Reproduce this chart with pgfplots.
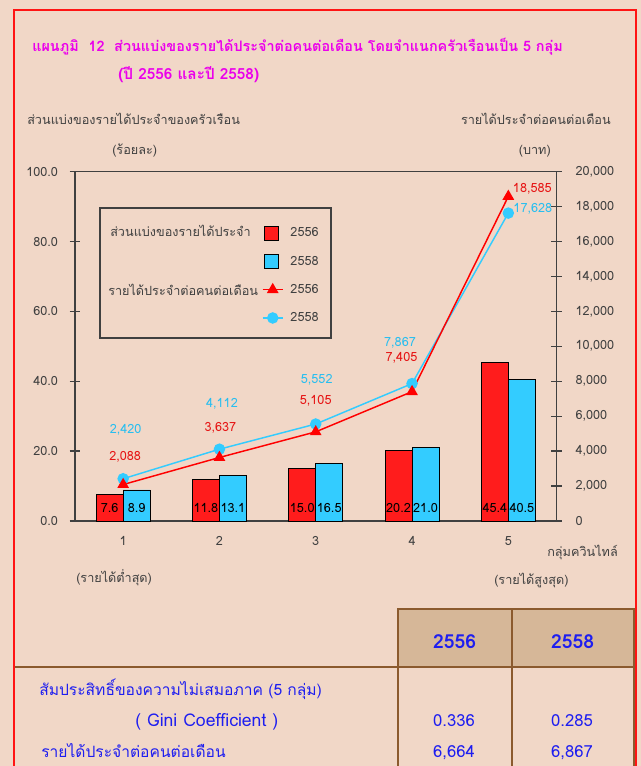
\documentclass[border=0pt]{standalone}
\usepackage{fontspec}
\setmainfont[Script=Thai]{Loma}
\usepackage{pgfplots}
\usepackage{pgfplotstable}
\pgfplotsset{compat=1.18}

\definecolor{bg}{RGB}{241,215,199}
\definecolor{framered}{RGB}{255,20,20}
\definecolor{ttl}{RGB}{235,0,235}
\definecolor{axgray}{RGB}{64,64,64}
\definecolor{barred}{RGB}{255,28,28}
\definecolor{barcyan}{RGB}{51,204,255}
\definecolor{linered}{RGB}{255,0,0}
\definecolor{linecyan}{RGB}{51,204,255}
\definecolor{lblred}{RGB}{230,20,20}
\definecolor{lblcyan}{RGB}{40,190,240}
\definecolor{tblbrown}{RGB}{139,90,46}
\definecolor{tblfill}{RGB}{214,183,152}
\definecolor{tblblue}{RGB}{30,30,240}

\pgfplotstableread{
x s56 s58
1 7.6 8.9
2 11.8 13.1
3 15.0 16.5
4 20.2 21.0
5 45.4 40.5
}\sharetab
\pgfplotstableread{
x y dx dy
1 2088 1.5 21.4
2 3637 0.75 23.1
3 5105 0 23.6
4 7405 -7.9 25.8
5 18585 18 6.3
}\incA
\pgfplotstableread{
x y dx dy
1 2420 1.9 37
2 4112 1.9 34.3
3 5552 0.75 33.75
4 7867 -9 31.5
5 17628 18.4 3.75
}\incB

\newcommand\cf{\fontsize{9.5}{11}\selectfont}
\newcommand\tf{\fontsize{12.5}{15}\selectfont}
\newcommand\tft{\fontsize{11.7}{14}\selectfont}

\begin{document}
\begin{tikzpicture}
\useasboundingbox (0,0) rectangle (480.75pt,-574.5pt);
\fill[bg] (0,0) rectangle (480.75pt,-574.5pt);
\begin{scope}[x=0.75pt,y=-0.75pt]
  % table
  \fill[tblfill] (398,609) rectangle (634,667);
  \draw[tblbrown,line width=1.7pt] (398,766) -- (398,609) -- (634,609) -- (634,766);
  \draw[tblbrown,line width=1.7pt] (512,609) -- (512,766);
  \draw[tblbrown,line width=1.7pt] (14,667) -- (634,667);
  % frame
  \draw[framered,line width=1.5pt] (14,766) -- (14,10) -- (635.5,10) -- (635.5,766);
  % titles
  \node[anchor=base west,inner sep=0pt,text=ttl,font=\fontsize{10.8}{14}\selectfont\bfseries] at (32,52) {แผนภูมิ\ \ 12\ \ ส่วนแบ่งของรายได้ประจำต่อคนต่อเดือน โดยจำแนกครัวเรือนเป็น 5 กลุ่ม};
  \node[anchor=base west,inner sep=0pt,text=ttl,font=\fontsize{11.5}{14}\selectfont\bfseries] at (118,80) {(ปี 2556 และปี 2558)};
  % axis titles
  \node[anchor=base west,inner sep=0pt,text=axgray,font=\cf] at (27,125) {ส่วนแบ่งของรายได้ประจำของครัวเรือน};
  \node[anchor=base west,inner sep=0pt,text=axgray,font=\cf] at (112,155) {(ร้อยละ)};
  \node[anchor=base east,inner sep=0pt,text=axgray,font=\cf] at (611,125) {รายได้ประจำต่อคนต่อเดือน};
  \node[anchor=base east,inner sep=0pt,text=axgray,font=\cf] at (551,155) {(บาท)};
  \node[anchor=base west,inner sep=0pt,text=axgray,font=\cf] at (547,556) {กลุ่มควินไทล์};
  \node[anchor=base west,inner sep=0pt,text=axgray,font=\cf] at (76,582) {(รายได้ต่ำสุด)};
  \node[anchor=base west,inner sep=0pt,text=axgray,font=\cf] at (494,584) {(รายได้สูงสุด)};
  % legend box and group labels
  \draw[axgray,line width=0.9pt] (100,208) rectangle (331,338);
  \node[anchor=base west,inner sep=0pt,text=axgray,font=\cf] at (110,237) {ส่วนแบ่งของรายได้ประจำ};
  \node[anchor=base west,inner sep=0pt,text=axgray,font=\cf] at (108,295) {รายได้ประจำต่อคนต่อเดือน};
  % table text
  \node[anchor=base,inner sep=0pt,text=tblblue,font=\fontsize{14.5}{17}\selectfont\bfseries] at (454.5,648) {2556};
  \node[anchor=base,inner sep=0pt,text=tblblue,font=\fontsize{14.5}{17}\selectfont\bfseries] at (572.5,648) {2558};
  \node[anchor=base west,inner sep=0pt,text=tblblue,font=\tft] at (39,695) {สัมประสิทธิ์ของความไม่เสมอภาค (5 กลุ่ม)};
  \node[anchor=base west,inner sep=0pt,text=tblblue,font=\fontsize{13.2}{15}\selectfont] at (135,726) {( Gini Coefficient )};
  \node[anchor=base,inner sep=0pt,text=tblblue,font=\tf] at (454,726) {0.336};
  \node[anchor=base,inner sep=0pt,text=tblblue,font=\tf] at (572,726) {0.285};
  \node[anchor=base west,inner sep=0pt,text=tblblue,font=\tft] at (41,757) {รายได้ประจำต่อคนต่อเดือน};
  \node[anchor=base,inner sep=0pt,text=tblblue,font=\tf] at (454,757) {6,664};
  \node[anchor=base,inner sep=0pt,text=tblblue,font=\tf] at (572,757) {6,867};
\end{scope}

% ---------- bars (left axis) ----------
\begin{axis}[
  at={(56.25pt,-390.75pt)}, anchor=south west,
  scale only axis, width=361.1pt, height=262pt,
  xmin=0.5, xmax=5.5, ymin=0, ymax=100,
  xtick={1,2,3,4,5}, major x tick style={draw=none}, xtick pos=bottom,
  ytick={0,20,40,60,80,100}, ytick pos=left,
  tick align=center, major tick length=8pt,
  axis line style={draw=axgray, line width=1pt},
  every tick/.style={axgray, line width=1pt},
  ybar=0pt, bar width=20.25pt,
  tick label style={font=\cf, text=axgray},
  yticklabel style={xshift=-5.25pt},
  /pgf/number format/assume math mode=true,
  yticklabel={\pgfmathprintnumber[fixed,fixed zerofill,precision=1]{\tick}},
  clip=false,
]
\addplot[fill=barred, draw=black, line width=0.6pt,
  nodes near coords={\pgfmathprintnumber[fixed,fixed zerofill,precision=1]{\pgfplotspointmeta}},
  visualization depends on={\thisrow{s56} \as \ry},
  every node near coord/.append style={anchor=center, inner sep=0pt, text depth=0pt, text=black, font=\cf, yshift={9.5pt-\ry*2.61975pt}},
] table[x=x,y=s56]{\sharetab};
\addplot[fill=barcyan, draw=black, line width=0.6pt,
  nodes near coords={\pgfmathprintnumber[fixed,fixed zerofill,precision=1]{\pgfplotspointmeta}},
  visualization depends on={\thisrow{s58} \as \ry},
  every node near coord/.append style={anchor=center, inner sep=0pt, text depth=0pt, text=black, font=\cf, yshift={9.5pt-\ry*2.61975pt}},
] table[x=x,y=s58]{\sharetab};
\end{axis}

% ---------- lines (right axis) ----------
\begin{axis}[
  at={(56.25pt,-390.75pt)}, anchor=south west,
  scale only axis, width=361.1pt, height=262pt,
  xmin=0.5, xmax=5.5, ymin=0, ymax=20000,
  axis x line=none, axis y line*=right,
  ytick={0,2000,...,20000}, scaled y ticks=false,
  tick align=center, major tick length=8pt,
  axis line style={draw=axgray, line width=1pt},
  every tick/.style={axgray, line width=1pt},
  tick label style={font=\cf, text=axgray},
  yticklabel style={xshift=6.75pt},
  /pgf/number format/assume math mode=true,
  yticklabel={\pgfmathprintnumber[fixed,precision=0,1000 sep={,}]{\tick}},
  legend style={at={(0.3884,0.8474)}, anchor=north west, draw=none, fill=none,
    inner sep=0pt, outer sep=0pt, row sep=9.25pt, column sep=5.25pt,
    font=\cf, text=axgray, nodes={inner sep=0pt, text height=9pt, text depth=3pt}},
  legend cell align=left,
  clip=false,
]
\addlegendimage{legend image code/.code={\draw[fill=barred,draw=black,line width=0.6pt] (1.5pt,-5.25pt) rectangle (12pt,5.25pt);}}
\addlegendentry{2556}
\addlegendimage{legend image code/.code={\draw[fill=barcyan,draw=black,line width=0.6pt] (1.5pt,-5.25pt) rectangle (12pt,5.25pt);}}
\addlegendentry{2558}
\addlegendimage{legend image code/.code={\draw[linered,line width=1.1pt,mark=triangle*,mark size=4pt,mark options={fill=linered},mark repeat=2,mark phase=2] plot coordinates {(0pt,0pt) (7.5pt,0pt) (15pt,0pt)};}}
\addlegendentry{2556}
\addlegendimage{legend image code/.code={\draw[linecyan,line width=1.1pt,mark=*,mark size=3.75pt,mark options={fill=linecyan},mark repeat=2,mark phase=2] plot coordinates {(0pt,0pt) (7.5pt,0pt) (15pt,0pt)};}}
\addlegendentry{2558}

\addplot[forget plot, linecyan, line width=1.1pt, mark=*, mark size=3.75pt, mark options={fill=linecyan},
  point meta=explicit,
  nodes near coords={\pgfmathprintnumber[fixed,precision=0,1000 sep={,}]{\pgfplotspointmeta}},
  visualization depends on={\thisrow{dx} \as \ddx},
  visualization depends on={\thisrow{dy} \as \ddy},
  every node near coord/.append style={anchor=center, inner sep=0pt, text depth=0pt, text=lblcyan, font=\cf, xshift=\ddx*1pt, yshift=\ddy*1pt},
] table[x=x,y=y,meta=y]{\incB};
\addplot[forget plot, linered, line width=1.1pt, mark=triangle*, mark size=4pt, mark options={fill=linered},
  point meta=explicit,
  nodes near coords={\pgfmathprintnumber[fixed,precision=0,1000 sep={,}]{\pgfplotspointmeta}},
  visualization depends on={\thisrow{dx} \as \ddx},
  visualization depends on={\thisrow{dy} \as \ddy},
  every node near coord/.append style={anchor=center, inner sep=0pt, text depth=0pt, text=lblred, font=\cf, xshift=\ddx*1pt, yshift=\ddy*1pt},
] table[x=x,y=y,meta=y]{\incA};
\end{axis}
\end{tikzpicture}
\end{document}
